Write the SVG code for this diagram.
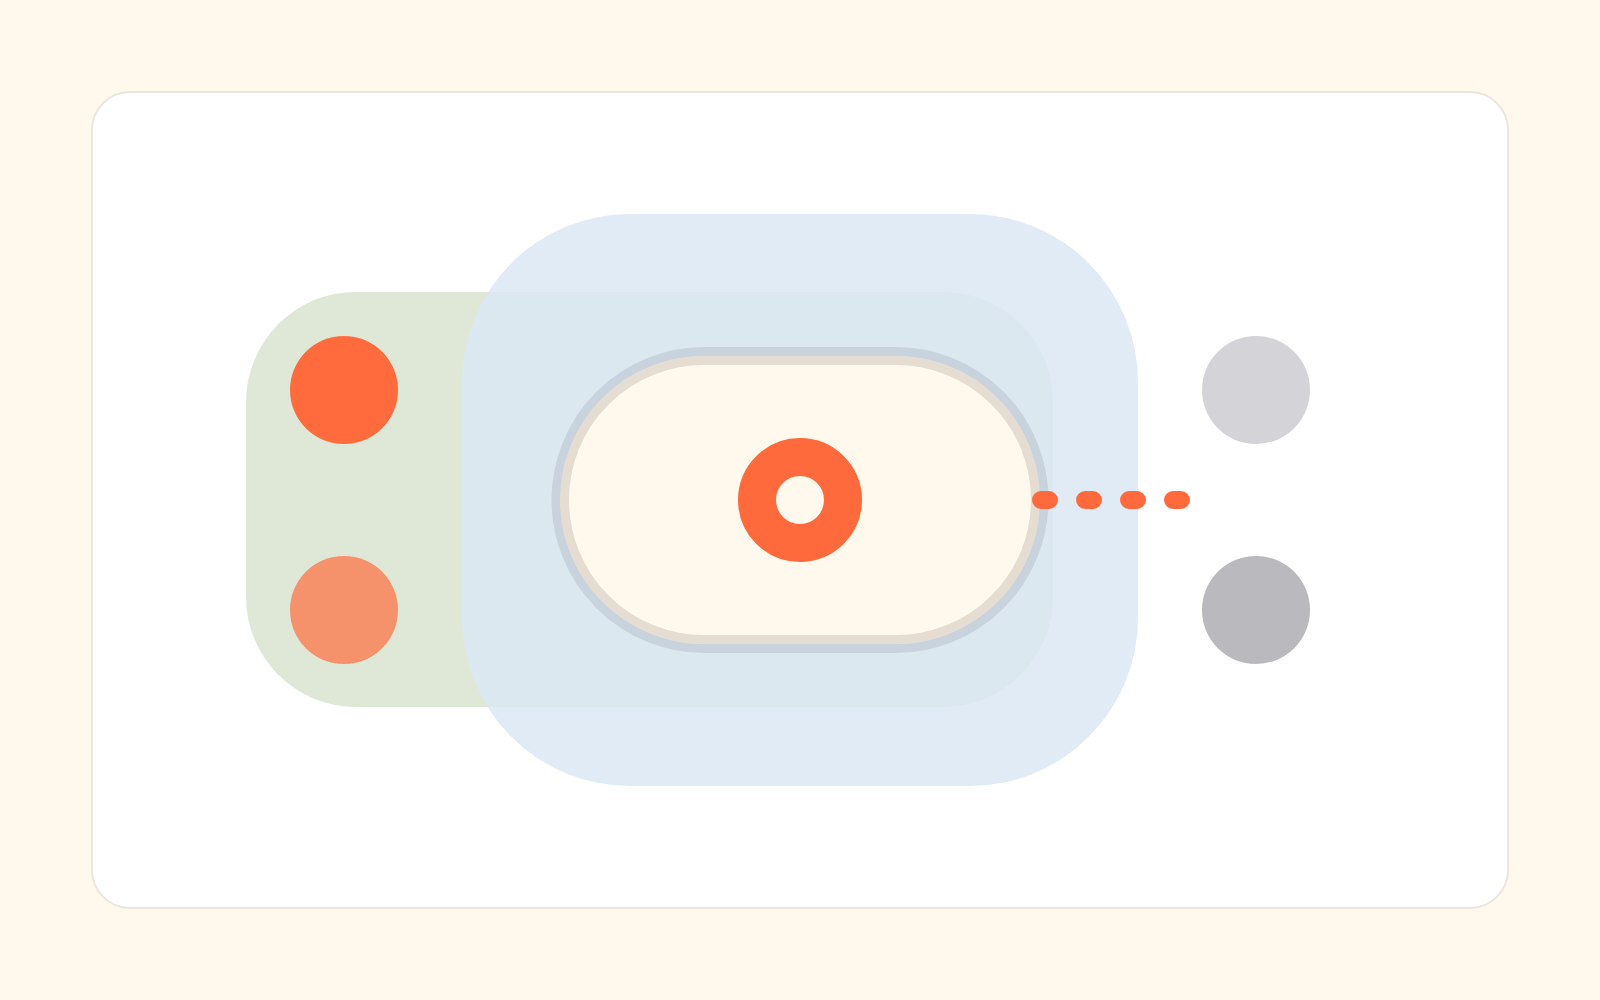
<svg xmlns="http://www.w3.org/2000/svg" width="1600" height="1000" viewBox="0 0 1600 1000">
  <style>
    .dot { stroke: none; }
    .conn { fill: none; stroke: #ff6a3d; stroke-width: 18; stroke-linecap: round; stroke-dasharray: 8 36; }
  </style>
  <rect x="0" y="0" width="1600" height="1000" fill="#fff8ec"/>
  <rect id="card" x="92" y="92" width="1416" height="816" rx="38" fill="#ffffff" stroke="#ece6dc" stroke-width="2"/>
  <g id="green-panel">
    <rect x="246" y="292" width="807" height="415" rx="110" fill="#dfe8d7"/>
  </g>
  <g id="blue-panel">
    <rect x="462" y="214" width="676" height="572" rx="168" fill="#dbe7f4" fill-opacity="0.85"/>
  </g>
  <g id="left-dot-1"><circle class="dot" cx="344" cy="390" r="54" fill="#ff6b3d"/></g>
  <g id="left-dot-2"><circle class="dot" cx="344" cy="610" r="54" fill="#f5916b"/></g>
  <g id="right-dot-1"><circle class="dot" cx="1256" cy="390" r="54" fill="#d4d4d8"/></g>
  <g id="right-dot-2"><circle class="dot" cx="1256" cy="610" r="54" fill="#b9b9be"/></g>
  <g id="pill">
    <rect x="556" y="351.5" width="488" height="297" rx="148.5" fill="none" stroke="#c8d3de" stroke-width="9"/>
    <rect x="564.5" y="360.5" width="471" height="279" rx="139.5" fill="#fff8ec" stroke="#e5ddd1" stroke-width="9"/>
  </g>
  <g id="connectors">
    <line class="conn" x1="1041" y1="500" x2="1181" y2="500"/>
  </g>
  <g id="target">
    <circle cx="800" cy="500" r="43" fill="#fff8ec" stroke="#ff6a3d" stroke-width="38"/>
  </g>
</svg>
